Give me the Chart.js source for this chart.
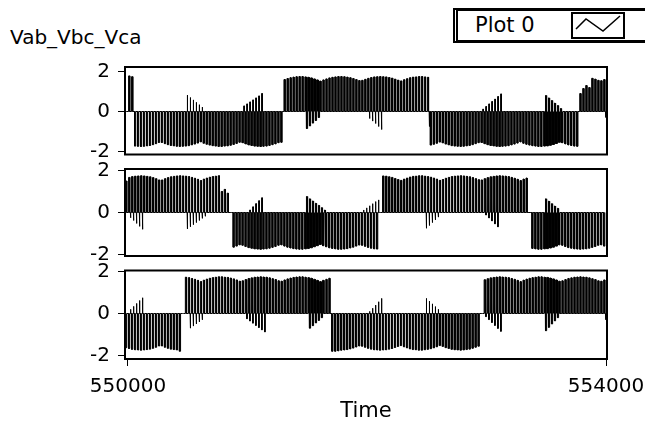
<!DOCTYPE html>
<html><head><meta charset="utf-8">
<script src="https://cdn.jsdelivr.net/npm/chart.js@4"></script>
<style>
html,body{margin:0;padding:0;background:#fff;}
body{width:645px;height:432px;position:relative;overflow:hidden;font-family:"DejaVu Sans",sans-serif;color:#000;}
canvas{position:absolute;left:0;top:0;}
#ttl{position:absolute;left:10px;top:25px;font-size:20px;line-height:24px;white-space:nowrap;}
#leg{position:absolute;left:453px;top:8px;width:200px;height:29px;border-top:3px solid #000;border-bottom:3px solid #000;border-left:5px double #000;background:#fff;}
#legtxt{position:absolute;left:17px;top:2px;font-size:21px;line-height:24px;white-space:nowrap;}
#legicon{position:absolute;left:113px;top:1px;width:50px;height:23px;border:2px solid #000;background:#fff;}
</style></head>
<body>
<div id="ttl">Vab_Vbc_Vca</div>
<div id="leg"><div id="legtxt">Plot 0</div><div id="legicon"><svg width="50" height="23"><polyline points="3,15 13,5 30,17 47,2" fill="none" stroke="#000" stroke-width="1.5"/></svg></div></div>
<canvas id="c1" width="645" height="432"></canvas>
<canvas id="c2" width="645" height="432"></canvas>
<canvas id="c3" width="645" height="432"></canvas>
<script>
// waveform timing (LabVIEW style t0 / dt) and axis ticks
const T0 = 549980, DT = 25;
const xTicks = [550000, 554000];
const yTicks = [-2, 0, 2];

// main pulse height in each 25-unit slot
const vab = [
0, 1.78, 1.74, -1.73, -1.74, -1.75, -1.74, -1.72, -1.70, -1.66,
-1.61, -1.55, -1.55, -1.61, -1.66, -1.70, -1.72, -1.74, -1.75, -1.74,
-1.73, -1.71, -1.67, -1.63, -1.58, -1.52, -1.59, -1.64, -1.68, -1.71,
-1.73, -1.75, -1.75, -1.73, -1.72, -1.69, -1.65, -1.60, -1.54, -1.56,
-1.62, -1.67, -1.70, -1.73, -1.74, -1.75, -1.74, -1.73, -1.70, -1.66,
-1.62, -1.56, -1.54, 1.60, 1.65, 1.69, 1.72, 1.74, 1.75, 1.75,
1.73, 1.71, 1.68, 1.63, 1.58, 1.52, 1.58, 1.63, 1.68, 1.71,
1.73, 1.75, 1.75, 1.74, 1.72, 1.69, 1.65, 1.60, 1.55, 1.56,
1.61, 1.66, 1.70, 1.73, 1.74, 1.75, 1.74, 1.73, 1.70, 1.67,
1.62, 1.57, 1.53, 1.59, 1.64, 1.69, 1.72, 1.73, 1.75, 1.75,
1.73, 1.71, -1.68, -1.64, -1.59, -1.53, -1.57, -1.63, -1.67, -1.71,
-1.73, -1.74, -1.75, -1.74, -1.72, -1.70, -1.66, -1.61, -1.56, -1.55,
-1.61, -1.66, -1.70, -1.72, -1.74, -1.75, -1.74, -1.73, -1.71, -1.67,
-1.63, -1.58, -1.52, -1.59, -1.64, -1.68, -1.71, -1.73, -1.75, -1.75,
-1.73, -1.72, -1.69, -1.65, -1.60, -1.54, -1.56, -1.62, -1.67, -1.70,
-1.73, -1.74, 0.90, 1.15, 1.30, 1.20, 1.66, 1.62, 1.56, 1.54,
1.60
];
const vbc = [
1.50, 1.67, 1.71, 1.73, 1.74, 1.75, 1.74, 1.72, 1.70, 1.66,
1.61, 1.55, 1.55, 1.61, 1.66, 1.70, 1.72, 1.74, 1.75, 1.74,
1.73, 1.71, 1.67, 1.63, 1.58, 1.52, 1.59, 1.64, 1.68, 1.71,
1.73, 1.75, 1.00, 1.10, 0.92, 0, -1.65, -1.60, -1.54, -1.56,
-1.62, -1.67, -1.70, -1.73, -1.74, -1.75, -1.74, -1.73, -1.70, -1.66,
-1.62, -1.56, -1.54, -1.60, -1.65, -1.69, -1.72, -1.74, -1.75, -1.75,
-1.73, -1.71, -1.68, -1.63, -1.58, -1.52, -1.58, -1.63, -1.68, -1.71,
-1.73, -1.75, -1.75, -1.74, -1.72, -1.69, -1.65, -1.60, -1.55, -1.56,
-1.61, -1.66, -1.70, -1.73, -1.74, 0, 1.74, 1.73, 1.70, 1.67,
1.62, 1.57, 1.53, 1.59, 1.64, 1.69, 1.72, 1.73, 1.75, 1.75,
1.73, 1.71, 1.68, 1.64, 1.59, 1.53, 1.57, 1.63, 1.67, 1.71,
1.73, 1.74, 1.75, 1.74, 1.72, 1.70, 1.66, 1.61, 1.56, 1.55,
1.61, 1.66, 1.70, 1.72, 1.74, 1.75, 1.74, 1.73, 1.71, 1.67,
1.63, 1.58, 1.52, 1.59, 1.64, 0, -1.71, -1.73, -1.75, -1.75,
-1.73, -1.72, -1.69, -1.65, -1.60, -1.54, -1.56, -1.62, -1.67, -1.70,
-1.73, -1.74, -1.75, -1.74, -1.73, -1.70, -1.66, -1.62, -1.56, -1.54,
-1.60
];
const vca = [
-1.63, -1.67, -1.71, -1.73, -1.74, -1.75, -1.74, -1.72, -1.70, -1.66,
-1.61, -1.55, -1.55, -1.61, -1.66, -1.70, -1.72, -1.74, -1.80, 0,
1.73, 1.71, 1.67, 1.63, 1.58, 1.52, 1.59, 1.64, 1.68, 1.71,
1.73, 1.75, 1.75, 1.73, 1.72, 1.69, 1.65, 1.60, 1.54, 1.56,
1.62, 1.67, 1.70, 1.73, 1.74, 1.75, 1.74, 1.73, 1.70, 1.66,
1.62, 1.56, 1.54, 1.60, 1.65, 1.69, 1.72, 1.74, 1.75, 1.75,
1.73, 1.71, 1.68, 1.63, 1.58, 1.52, 1.58, 1.63, 1.68, -1.80,
-1.80, -1.78, -1.75, -1.74, -1.72, -1.69, -1.65, -1.60, -1.55, -1.56,
-1.61, -1.66, -1.70, -1.73, -1.74, -1.75, -1.74, -1.73, -1.70, -1.67,
-1.62, -1.57, -1.53, -1.59, -1.64, -1.69, -1.72, -1.73, -1.75, -1.75,
-1.73, -1.71, -1.68, -1.64, -1.59, -1.53, -1.57, -1.63, -1.67, -1.71,
-1.73, -1.74, -1.75, -1.74, -1.72, -1.70, -1.66, -1.61, -1.56, 0,
1.61, 1.66, 1.70, 1.72, 1.74, 1.75, 1.74, 1.73, 1.71, 1.67,
1.63, 1.58, 1.52, 1.59, 1.64, 1.68, 1.71, 1.73, 1.75, 1.75,
1.73, 1.72, 1.69, 1.65, 1.60, 1.54, 1.56, 1.62, 1.67, 1.70,
1.73, 1.74, 1.75, 1.74, 1.73, 1.70, 1.66, 1.62, 1.56, 1.54,
1.60
];

// opposite-polarity short spikes: [slot, height]
const vabSpikes = [
[20,0.82],[21,0.70],[22,0.58],[23,0.46],[24,0.34],[25,0.22],
[39,0.28],[40,0.38],[41,0.48],[42,0.58],[43,0.68],[44,0.78],[45,0.90],
[60,-0.85],[61,-0.72],[62,-0.58],[63,-0.45],[64,-0.30],
[81,-0.35],[82,-0.48],[83,-0.60],[84,-0.75],[85,-0.90],
[101,-0.75],
[119,0.12],[120,0.25],[121,0.38],[122,0.50],[123,0.62],[124,0.75],[125,0.88],
[140,0.80],[141,0.68],[142,0.55],[143,0.42],[144,0.30],[145,0.15],
[160,-0.30]
];
const vbcSpikes = [
[1,-0.25],[2,-0.38],[3,-0.52],[4,-0.66],[5,-0.80],
[20,-0.78],[21,-0.68],[22,-0.58],[23,-0.48],[24,-0.38],[25,-0.28],[26,-0.18],
[41,0.12],[42,0.27],[43,0.42],[44,0.56],[45,0.70],
[60,0.76],[61,0.65],[62,0.55],[63,0.44],[64,0.34],[65,0.23],[66,0.12],
[79,0.12],[80,0.22],[81,0.32],[82,0.42],[83,0.52],[84,0.60],
[100,-0.75],[101,-0.62],[102,-0.48],[103,-0.35],[104,-0.22],
[120,-0.12],[121,-0.26],[122,-0.40],[123,-0.54],[124,-0.68],
[140,0.65],[141,0.54],[142,0.42],[143,0.31],[144,0.20]
];
const vcaSpikes = [
[1,0.20],[2,0.34],[3,0.48],[4,0.62],[5,0.75],
[21,-0.70],[22,-0.60],[23,-0.50],[24,-0.40],[25,-0.30],
[40,-0.25],[41,-0.36],[42,-0.46],[43,-0.57],[44,-0.67],[45,-0.78],[46,-0.88],
[61,-0.70],[62,-0.58],[63,-0.45],[64,-0.33],[65,-0.20],
[81,0.10],[82,0.25],[83,0.40],[84,0.56],[85,0.72],
[100,0.72],[101,0.59],[102,0.46],[103,0.33],[104,0.20],
[120,-0.15],[121,-0.29],[122,-0.43],[123,-0.57],[124,-0.71],[125,-0.85],
[140,-0.82],[141,-0.66],[142,-0.50],[143,-0.35],[144,-0.20],
[160,-0.30]
];

const PW = 10, SP0 = 15, SP1 = 19; // drawn widths inside a slot, time units
function pulses(vals, spikes){
  const sp = new Map(spikes);
  const pts = [];
  vals.forEach((h, i) => {
    const t = T0 + DT * i;
    pts.push({x:t, y:0}, {x:t, y:h}, {x:t + PW, y:h}, {x:t + PW, y:0});
    if (sp.has(i)) {
      const s = sp.get(i);
      pts.push({x:t + SP0, y:0}, {x:t + SP0, y:s}, {x:t + SP1, y:s}, {x:t + SP1, y:0});
    }
  });
  return pts;
}

const frame = {
  id: 'frame',
  afterDraw(c){
    const a = c.chartArea, ctx = c.ctx;
    ctx.save();
    ctx.strokeStyle = '#000';
    ctx.lineWidth = 2;
    ctx.strokeRect(a.left, a.top, a.right - a.left, a.bottom - a.top);
    ctx.restore();
  }
};

const FONT = 'DejaVu Sans';
function make(id, vals, spikes, padTop, padBottom, yMin, yMax, showX){
  return new Chart(document.getElementById(id), {
    type: 'line',
    data: { datasets: [{ data: pulses(vals, spikes), borderColor: '#000', backgroundColor: '#000', borderWidth: 1, pointRadius: 0, tension: 0, fill: 'origin' }] },
    options: {
      responsive: false, devicePixelRatio: 1, animation: false, events: [], parsing: false,
      layout: { padding: { left: 0, right: 38, top: padTop, bottom: padBottom } },
      plugins: { legend: { display: false }, tooltip: { enabled: false } },
      scales: {
        x: {
          type: 'linear', min: 549975, max: 554008, display: showX,
          afterBuildTicks(s){ s.ticks = xTicks.map(v => ({value: v})); },
          afterFit(s){ if (showX) s.height = 73; s.paddingLeft = 0; s.paddingRight = 0; },
          ticks: { font: { family: FONT, size: 20 }, color: '#000', padding: 9, maxRotation: 0, autoSkip: false, callback: v => String(v) },
          grid: { drawOnChartArea: false, drawTicks: true, tickLength: 7, color: '#000' },
          border: { display: false },
          title: { display: true, text: 'Time', font: { family: FONT, size: 21 }, color: '#000', padding: { top: 0, bottom: 8 } }
        },
        y: {
          type: 'linear', min: yMin, max: yMax,
          afterBuildTicks(s){ s.ticks = yTicks.map(v => ({value: v})); },
          afterFit(s){ s.width = 125; s.paddingTop = 0; s.paddingBottom = 0; },
          ticks: { font: { family: FONT, size: 20 }, color: '#000', padding: 8 },
          grid: { drawOnChartArea: false, drawTicks: true, tickLength: 7, color: '#000' },
          border: { display: false }
        }
      }
    },
    plugins: [frame]
  });
}

make('c1', vab, vabSpikes, 67, 277.5, -2.15, 2.225, false);
make('c2', vbc, vbcSpikes, 169, 176, -2.07, 2.07, false);
make('c3', vca, vcaSpikes, 270.5, 0, -2.17, 2.05, true);
</script>
</body></html>
